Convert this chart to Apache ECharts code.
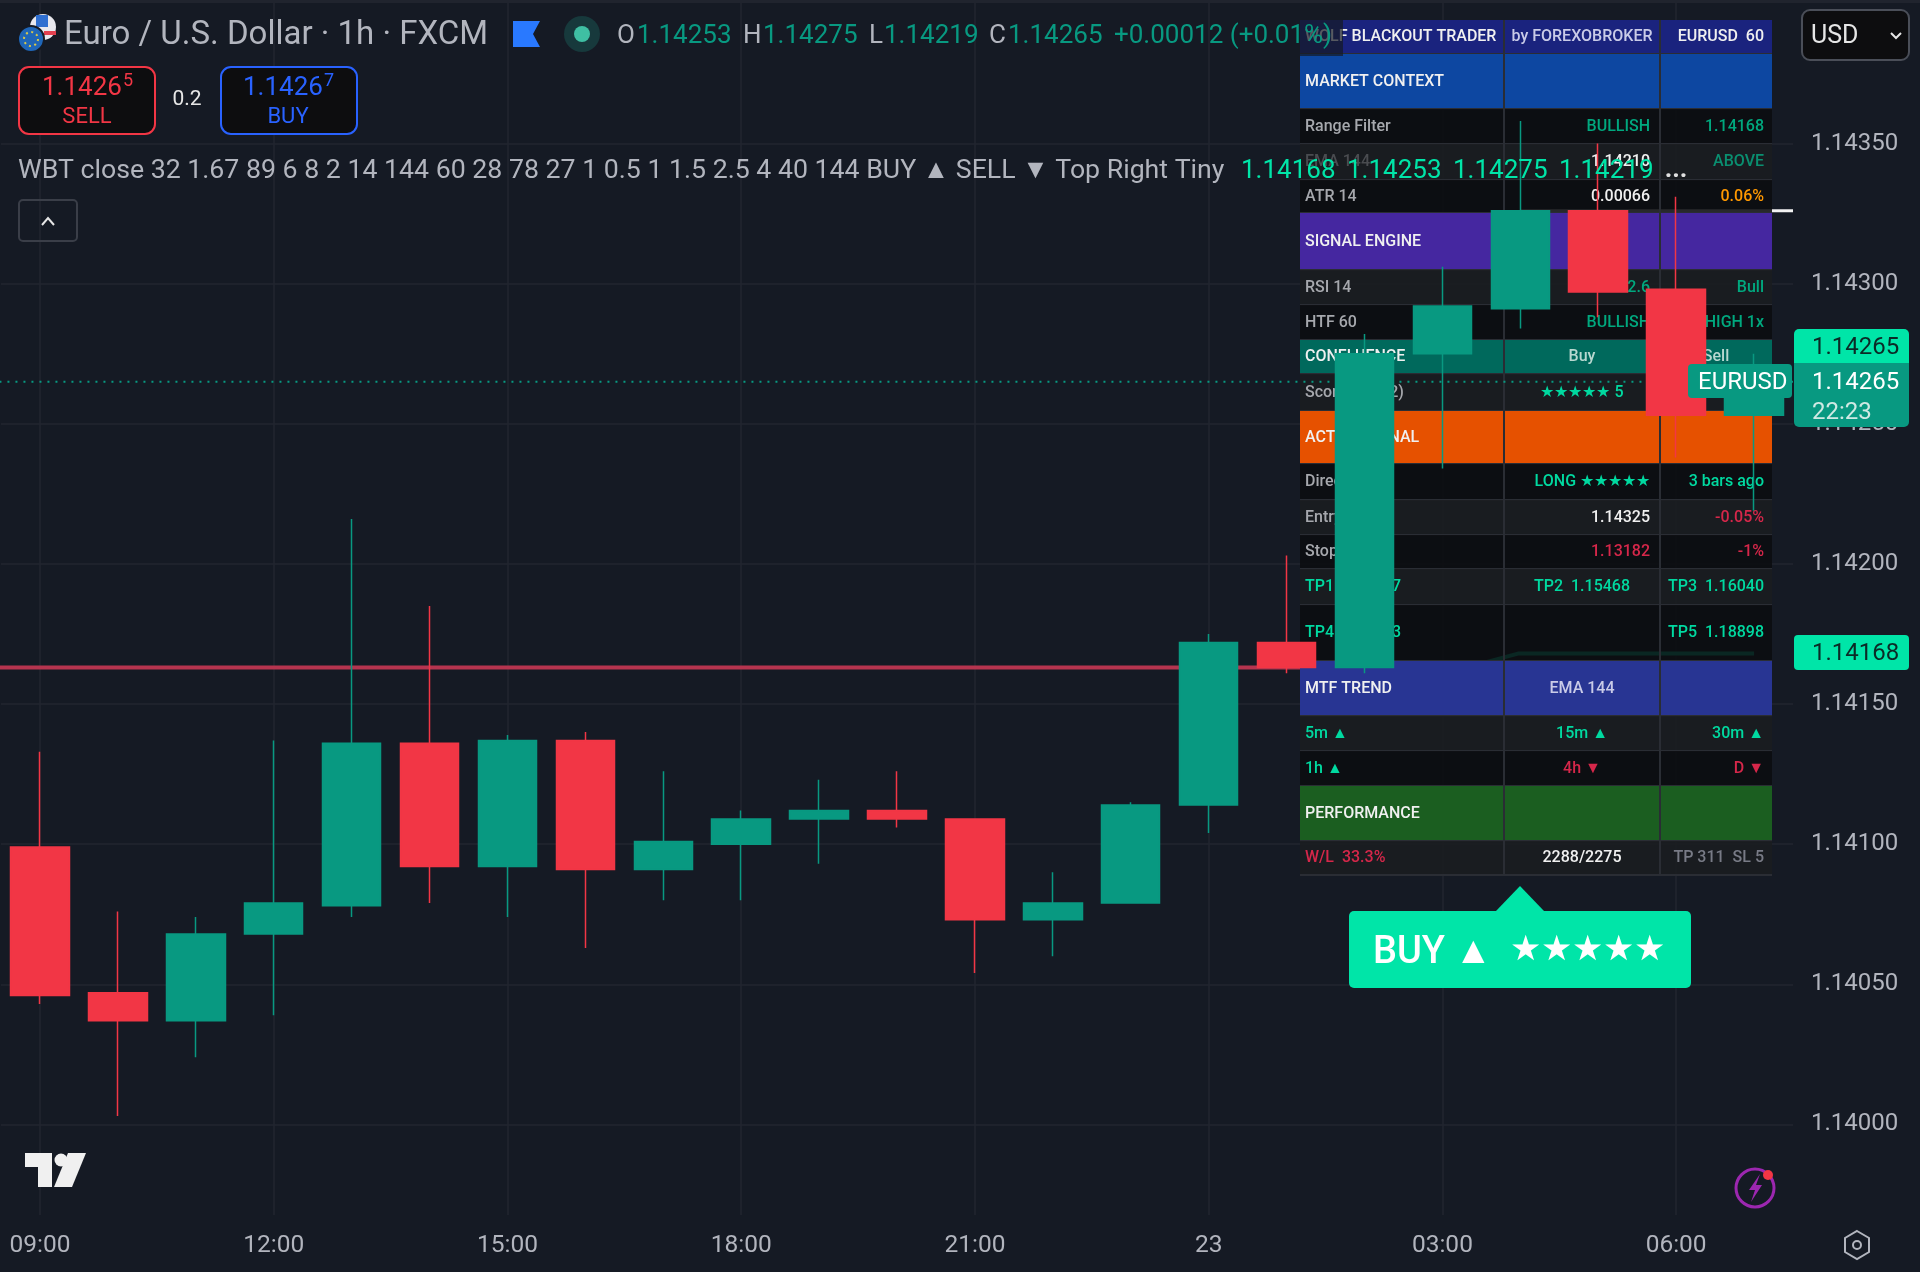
<!DOCTYPE html>
<html lang="en" style="height: 100%">
<head>
    <meta charset="UTF-8">
    <title>Euro / U.S. Dollar 1h FXCM</title>
    <script src="https://cdn.jsdelivr.net/npm/echarts@6/dist/echarts.min.js"></script>
    <style>html,body{margin:0;padding:0;background:#151a24}</style>
</head>
<body style="height: 100%">
<div id="main" style="width:1920px;height:1272px"></div>
<script>
    // bars, oldest first
    var categories = ['09:00','10:00','11:00','12:00','13:00','14:00','15:00','16:00','17:00','18:00','19:00','20:00','21:00','22:00','23:00','23','01:00','02:00','03:00','04:00','05:00','06:00','07:00'];
    var opens  = [1.14099,1.14047,1.14037,1.14068,1.14078,1.14136,1.14092,1.14137,1.14091,1.14100,1.14109,1.14112,1.14109,1.14073,1.14079,1.14114,1.14172,1.14163,1.14275,1.14291,1.14326,1.14298,1.14253];
    var closes = [1.14046,1.14037,1.14068,1.14079,1.14136,1.14092,1.14137,1.14091,1.14101,1.14109,1.14112,1.14109,1.14073,1.14079,1.14114,1.14172,1.14163,1.14275,1.14292,1.14326,1.14297,1.14253,1.14265];
    var lows   = [1.14043,1.14003,1.14024,1.14039,1.14074,1.14079,1.14074,1.14063,1.14080,1.14080,1.14093,1.14106,1.14054,1.14060,1.14079,1.14104,1.14161,1.14161,1.14234,1.14284,1.14288,1.14238,1.14219];
    var highs  = [1.14133,1.14076,1.14074,1.14137,1.14216,1.14185,1.14139,1.14140,1.14126,1.14112,1.14123,1.14126,1.14109,1.14090,1.14115,1.14175,1.14203,1.14282,1.14306,1.14358,1.14350,1.14331,1.14275];
    var priceTicks = [1.14000,1.14050,1.14100,1.14150,1.14200,1.14250,1.14300,1.14350];

    // range filter and level lines: [bar index, price]
    var rangeRed   = [[-0.52,1.14163],[18.3,1.14163]];
    var rangeGreen = [[18.3,1.14163],[18.97,1.14168],[22,1.14168]];
    var entryLine  = [[19,1.14326],[22.5,1.14326]];
    var lastLine   = [[-0.52,1.14265],[22.5,1.14265]];

    var tableText = [
        ['WOLF BLACKOUT TRADER','by FOREXOBROKER','EURUSD  60'],
        ['MARKET CONTEXT','',''],
        ['Range Filter','BULLISH','1.14168'],
        ['EMA 144','1.14210','ABOVE'],
        ['ATR 14','0.00066','0.06%'],
        ['SIGNAL ENGINE','',''],
        ['RSI 14','62.6','Bull'],
        ['HTF 60','BULLISH','HIGH 1x'],
        ['CONFLUENCE','Buy','Sell'],
        ['Score (12/12)','★★★★★ 5',''],
        ['ACTIVE SIGNAL','',''],
        ['Direction','LONG ★★★★★','3 bars ago'],
        ['Entry','1.14325','-0.05%'],
        ['Stop','1.13182','-1%'],
        ['TP1  1.14897','TP2  1.15468','TP3  1.16040'],
        ['TP4  1.17183','','TP5  1.18898'],
        ['MTF TREND','EMA 144',''],
        ['5m ▲','15m ▲','30m ▲'],
        ['1h ▲','4h ▼','D ▼'],
        ['PERFORMANCE','',''],
        ['W/L  33.3%','2288/2275','TP 311  SL 5']
    ];

    // table look
    var rowEdges = [20,54,109,144,180,213,270,305,340,374,411,464,500,535,569,605,661,716,751,786,841,875];
    var D = '#0b0c10', L = '#1a1c20';
    var rowFills = ['#1a237e','#0d47a1',D,L,D,'#4527a0',L,D,'#00695c',L,'#e65100',D,L,D,L,D,'#283593',L,D,'#1b5e20',L];
    var G = '#00d9a0', R = '#d6274a', W = '#f0f0f0', S = '#a6a8ad', B = '#c9cbe8', M = '#00a87e';
    var rowColors = [
        [W,B,W],[W,W,W],[S,M,M],['#4a4c50',W,'#0a8f70'],[S,W,'#ff9800'],[W,W,W],[S,M,M],
        [S,M,M],[W,'#b8d8d0','#b8d8d0'],[S,G,G],[W,W,W],[S,G,G],[S,W,R],[S,R,R],[G,G,G],[G,G,G],
        [W,B,W],[G,G,G],[G,R,R],[W,W,W],[R,W,'#787b86']
    ];
    // true: middle column right aligned, false: centred
    var midRight = [0,0,1,1,1,0,1,1,0,0,0,1,1,1,0,0,0,0,0,0,0];
    var colX = [1300,1504,1660,1772];

    var FONT = 'Roboto, "Noto Sans", sans-serif';
    var green = '#089981', red = '#f23645', bright = '#00e5a8', gray = '#b2b5be';

    function txt(x, y, s, size, fill, align, z, weight) {
        return {
            type: 'text', z: z === undefined ? 10 : z, silent: true,
            style: {
                x: x, y: y, text: s, fill: fill,
                font: (weight || 400) + ' ' + size + 'px ' + FONT,
                align: align || 'left', textAlign: align || 'left',
                verticalAlign: 'middle', textVerticalAlign: 'middle'
            }
        };
    }
    function box(x, y, w, h, r, fill, stroke, z, lw) {
        return {
            type: 'rect', z: z === undefined ? 9 : z, silent: true,
            shape: {x: x, y: y, width: w, height: h, r: r},
            style: {fill: fill, stroke: stroke || null, lineWidth: lw || 0}
        };
    }
    function poly(points, fill, z) {
        return {type: 'polygon', z: z === undefined ? 10 : z, silent: true, shape: {points: points}, style: {fill: fill}};
    }
    function ring(cx, cy, r, fill, stroke, lw, z) {
        return {
            type: 'circle', z: z === undefined ? 10 : z, silent: true,
            shape: {cx: cx, cy: cy, r: r},
            style: {fill: fill, stroke: stroke || null, lineWidth: lw || 0}
        };
    }

    var gfx = [];

    gfx.push(box(0, 0, 1920, 3, 0, '#20242e', null, 3));

    // panel, sits above the grid and below the candles
    rowFills.forEach(function (fill, i) {
        var top = rowEdges[i], bottom = rowEdges[i + 1], cy = (top + bottom) / 2;
        gfx.push({
            type: 'rect', z: 4, silent: true,
            shape: {x: colX[0], y: top, width: colX[3] - colX[0], height: bottom - top},
            style: {fill: fill, opacity: (fill === D || fill === L) ? 0.88 : 1}
        });
        gfx.push({
            type: 'line', z: 4, silent: true,
            shape: {x1: colX[0], y1: bottom, x2: colX[3], y2: bottom},
            style: {stroke: '#2a2d34', lineWidth: 2}
        });
        var row = tableText[i], col = rowColors[i];
        if (row[0]) gfx.push(txt(colX[0] + 5, cy, row[0], 16, col[0], 'left', 4, 500));
        if (row[1]) {
            if (midRight[i]) gfx.push(txt(colX[2] - 10, cy, row[1], 16, col[1], 'right', 4, 500));
            else gfx.push(txt((colX[1] + colX[2]) / 2, cy, row[1], 16, col[1], 'center', 4, 500));
        }
        if (row[2]) {
            if (i === 8) gfx.push(txt((colX[2] + colX[3]) / 2, cy, row[2], 16, col[2], 'center', 4, 500));
            else gfx.push(txt(colX[3] - 8, cy, row[2], 16, col[2], 'right', 4, 500));
        }
    });
    [colX[1], colX[2]].forEach(function (x) {
        gfx.push({
            type: 'line', z: 4, silent: true,
            shape: {x1: x, y1: rowEdges[0], x2: x, y2: rowEdges[rowEdges.length - 1]},
            style: {stroke: '#2a2d34', lineWidth: 2}
        });
    });
    // legend fade over the panel corner
    gfx.push(box(1300, 20, 43, 36, 0, 'rgba(21,26,36,0.7)', null, 7));

    // symbol line
    gfx.push(ring(43, 27, 13, '#e8e8ee'));
    gfx.push({type: 'rect', z: 10, silent: true, shape: {x: 36, y: 15, width: 12, height: 12}, style: {fill: '#2f6fd0'}});
    gfx.push({type: 'rect', z: 10, silent: true, shape: {x: 44, y: 31, width: 12, height: 4}, style: {fill: '#e2404f'}});
    gfx.push(ring(31, 39, 13, '#1f66b8', '#151a24', 2));
    gfx.push({
        type: 'circle', z: 10, silent: true,
        shape: {cx: 31, cy: 39, r: 7},
        style: {fill: null, stroke: '#d8c84a', lineWidth: 2, lineDash: [2, 3.5]}
    });
    gfx.push(txt(64, 36, 'Euro / U.S. Dollar · 1h · FXCM', 33, gray));
    gfx.push(poly([[513,21],[540,21],[533,34],[540,47],[513,47]], '#2979ff'));
    gfx.push(ring(582, 34, 18, '#17393c'));
    gfx.push(ring(582, 34, 8, '#3fbfa3'));

    var ohlcLabels = [['O',617],['H',743],['L',869],['C',989]];
    var ohlcValues = [['1.14253',637],['1.14275',763],['1.14219',884],['1.14265',1008]];
    ohlcLabels.forEach(function (o) { gfx.push(txt(o[1], 36, o[0], 26, gray)); });
    ohlcValues.forEach(function (o) { gfx.push(txt(o[1], 36, o[0], 26, green)); });
    gfx.push(txt(1114, 36, '+0.00012 (+0.01%)', 26, green));

    // sell / buy
    gfx.push(box(19, 67, 136, 67, 10, '#0d0d0f', red, 9, 2));
    gfx.push(box(221, 67, 136, 67, 10, '#0d0d0f', '#2962ff', 9, 2));
    gfx.push(txt(42, 88, '1.1426', 26, red));
    gfx.push(txt(123, 81, '5', 18, red));
    gfx.push(txt(87, 117, 'SELL', 22, red, 'center'));
    gfx.push(txt(243, 88, '1.1426', 26, '#2962ff'));
    gfx.push(txt(324, 81, '7', 18, '#2962ff'));
    gfx.push(txt(288, 117, 'BUY', 22, '#2962ff', 'center'));
    gfx.push(txt(187, 100, '0.2', 21, '#e6e6e6', 'center'));

    // indicator line
    gfx.push(txt(18, 171, 'WBT close 32 1.67 89 6 8 2 14 144 60 28 78 27 1 0.5 1 1.5 2.5 4 40 144 BUY ▲ SELL ▼ Top Right Tiny', 26.7, gray));
    gfx.push(txt(1241, 171, '1.14168', 26, bright));
    gfx.push(txt(1347, 171, '1.14253', 26, bright));
    gfx.push(txt(1453, 171, '1.14275', 26, bright));
    gfx.push(txt(1559, 171, '1.14219', 26, bright));
    gfx.push(txt(1676, 170, '...', 26, '#e0e0e0', 'center', 10, 700));
    gfx.push(box(19, 200, 58, 41, 4, 'rgba(0,0,0,0)', '#3a3e48', 9, 2));
    gfx.push({
        type: 'polyline', z: 10, silent: true,
        shape: {points: [[42,225],[48,218],[54,225]]},
        style: {stroke: '#e6e6e6', lineWidth: 2, fill: null}
    });

    // currency switch
    gfx.push(box(1802, 10, 107, 50, 8, '#0d0d0f', '#4a4e58', 9, 2));
    gfx.push(txt(1811, 37, 'USD', 25, '#e6e6e6'));
    gfx.push({
        type: 'polyline', z: 10, silent: true,
        shape: {points: [[1891,33],[1896,38],[1901,33]]},
        style: {stroke: '#e6e6e6', lineWidth: 2, fill: null}
    });

    // price tags
    gfx.push(box(1794, 329, 115, 34, [5,5,0,0], bright));
    gfx.push(txt(1812, 348, '1.14265', 24, '#0b2a26'));
    gfx.push(box(1794, 363, 115, 64, [0,0,5,5], green));
    gfx.push(txt(1812, 383, '1.14265', 24, '#ffffff'));
    gfx.push(txt(1812, 413, '22:23', 24, '#cfe9e3'));
    gfx.push(box(1688, 364, 104, 34, 4, green));
    gfx.push(txt(1698, 383, 'EURUSD', 24, '#ffffff'));
    gfx.push(box(1794, 635, 115, 35, 4, bright));
    gfx.push(txt(1812, 654, '1.14168', 24, '#0b2a26'));

    // buy signal label
    gfx.push(poly([[1496,911],[1520,886],[1544,911]], bright, 9));
    gfx.push(box(1349, 911, 342, 77, 5, bright));
    gfx.push(txt(1373, 953, 'BUY ▲', 38, '#ffffff', 'left', 10, 500));
    gfx.push(txt(1510, 951, '★★★★★', 35, '#ffffff', 'left', 10, 500));

    // logo
    gfx.push(poly([[25,1153],[52,1153],[52,1187],[38,1187],[38,1167],[25,1167]], '#f0f0f0'));
    gfx.push(ring(61, 1160, 6.5, '#f0f0f0'));
    gfx.push(poly([[68,1153],[86,1153],[72,1187],[54,1187]], '#f0f0f0'));

    // lightning badge and settings
    gfx.push(ring(1755, 1188, 19, null, '#9c27b0', 3));
    gfx.push(poly([[1760,1174],[1749,1190],[1755,1190],[1751,1202],[1762,1185],[1756,1185]], '#9c27b0'));
    gfx.push(ring(1768, 1175, 5, red));
    gfx.push({
        type: 'polygon', z: 10, silent: true,
        shape: {points: [[1857,1231],[1869,1238],[1869,1252],[1857,1259],[1845,1252],[1845,1238]]},
        style: {fill: null, stroke: '#b2b5be', lineWidth: 2}
    });
    gfx.push(ring(1857, 1245, 4, null, '#b2b5be', 2));

    function lineSeries(name, data, color, width, z, type) {
        return {
            name: name, type: 'line', xAxisIndex: 1, yAxisIndex: 0,
            data: data, z: z, showSymbol: false, silent: true, animation: false, clip: false,
            lineStyle: {color: color, width: width, type: type || 'solid'}
        };
    }

    var myChart = echarts.init(document.getElementById('main'));
    myChart.setOption({
        backgroundColor: '#151a24',
        animation: false,
        grid: {left: 1, right: 127, top: 0, bottom: 57},
        xAxis: [{
            type: 'category',
            data: categories,
            axisLine: {show: false},
            axisTick: {show: false, alignWithLabel: true, interval: 2},
            axisLabel: {interval: 2, color: gray, fontFamily: FONT, fontSize: 24.5, margin: 18},
            splitLine: {show: true, interval: 2, alignWithLabel: true, lineStyle: {color: '#22262f', width: 1.5}}
        }, {
            type: 'value', min: -0.5, max: 22.5, show: false
        }],
        yAxis: {
            type: 'value',
            position: 'right',
            min: 1.139677,
            max: 1.144012,
            axisLine: {show: false},
            axisTick: {show: false, customValues: priceTicks},
            axisLabel: {
                customValues: priceTicks,
                color: gray, fontFamily: FONT, fontSize: 24, margin: 18,
                formatter: function (v) { return v.toFixed(5); }
            },
            splitLine: {show: true, lineStyle: {color: '#22262f', width: 1.5}}
        },
        series: [
            lineSeries('Range red', rangeRed, '#b5344f', 4, 1),
            lineSeries('Range green', rangeGreen, '#00e5a8', 4, 1),
            lineSeries('Entry', entryLine, '#f2f2f2', 3, 1),
            lineSeries('Last price', lastLine, green, 2, 5, [2, 6]),
            {
                name: 'EURUSD',
                type: 'candlestick',
                z: 6,
                barWidth: 59,
                silent: true,
                data: categories.map(function (c, i) { return [opens[i], closes[i], lows[i], highs[i]]; }),
                itemStyle: {color: green, color0: red, borderColor: green, borderColor0: red, borderWidth: 1.5}
            }
        ],
        graphic: {elements: gfx}
    });
</script>

</body>
</html>
